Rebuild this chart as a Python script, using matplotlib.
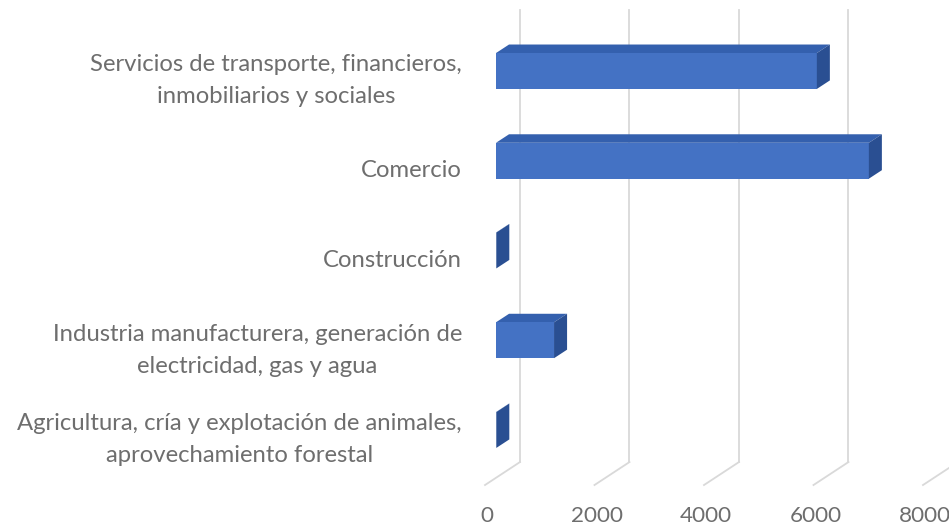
import matplotlib
matplotlib.use("Agg")
import matplotlib.pyplot as plt
from matplotlib.patches import Polygon
import matplotlib.transforms as mtransforms

# ---- data ----
categories = [
    "Agricultura, cría y explotación de animales,\naprovechamiento forestal",
    "Industria manufacturera, generación de\nelectricidad, gas y agua",
    "Construcción",
    "Comercio",
    "Servicios de transporte, financieros,\ninmobiliarios y sociales",
]
values = [5, 1060, 5, 6810, 5860]
xticks = [0, 2000, 4000, 6000, 8000]
xtick_labels = ["0", "2000", "4000", "6000", "8000"]

# ---- style ----
FRONT = "#4472C4"
TOP = "#3460AE"
SIDE = "#2A4F92"
GRID = "#D9D9D9"
TEXT = "#6E6E6E"
FONT = "Lato"
FS = 17.2

W, H, DPI = 949, 529, 100
fig = plt.figure(figsize=(W / DPI, H / DPI), dpi=DPI)
ax = fig.add_axes([470 / W, 0, 479 / W, 1])
ax.set_xlim(-475, 8274)
ax.set_ylim(-1.103, 4.791)
ax.axis("off")

# depth vectors (data units) relative to bar front plane
bar_dx, bar_dy = 238, 0.095        # bar depth
back_dx, back_dy = 438, 0.176      # back wall
floor_dx, floor_dy = -201, -0.080  # front edge of floor
floor_back_y = -0.357
grid_top = 4.68
bar_h = 0.40

# gridlines (back wall + floor)
for v in xticks:
    ax.plot([v + back_dx, v + back_dx], [floor_back_y, grid_top], color=GRID, lw=1.3, zorder=1, clip_on=False)
    ax.plot([v + back_dx, v + floor_dx], [floor_back_y, floor_back_y - back_dy + floor_dy],
            color=GRID, lw=1.3, zorder=1, clip_on=False)

# tick labels
for v, lab in zip(xticks, xtick_labels):
    ax.text(v + floor_dx + 40, -0.96, lab, ha="center", va="center", color=TEXT,
            fontsize=FS - 1, family=FONT, clip_on=False)

# bars
ypos = list(range(len(categories)))
ax.barh(ypos, values, height=bar_h, left=0, color=FRONT, zorder=3, linewidth=0)
for y, v in zip(ypos, values):
    top = y + bar_h / 2
    bot = y - bar_h / 2
    ax.add_patch(Polygon([(0, top), (v, top), (v + bar_dx, top + bar_dy), (bar_dx, top + bar_dy)],
                         closed=True, facecolor=TOP, edgecolor="none", zorder=2))
    ax.add_patch(Polygon([(v, bot), (v + bar_dx, bot + bar_dy), (v + bar_dx, top + bar_dy), (v, top)],
                         closed=True, facecolor=SIDE, edgecolor="none", zorder=4))

# category labels
off = mtransforms.ScaledTranslation(-8 / DPI, 0, fig.dpi_scale_trans)
trans = mtransforms.blended_transform_factory(ax.transAxes, ax.transData) + off
for y, lab in zip(ypos, categories):
    ax.text(0, y - 0.11, lab, transform=trans, ha="right", va="center", multialignment="center",
            color=TEXT, fontsize=FS, family=FONT, linespacing=1.65)

fig.savefig("out.png", dpi=DPI)
